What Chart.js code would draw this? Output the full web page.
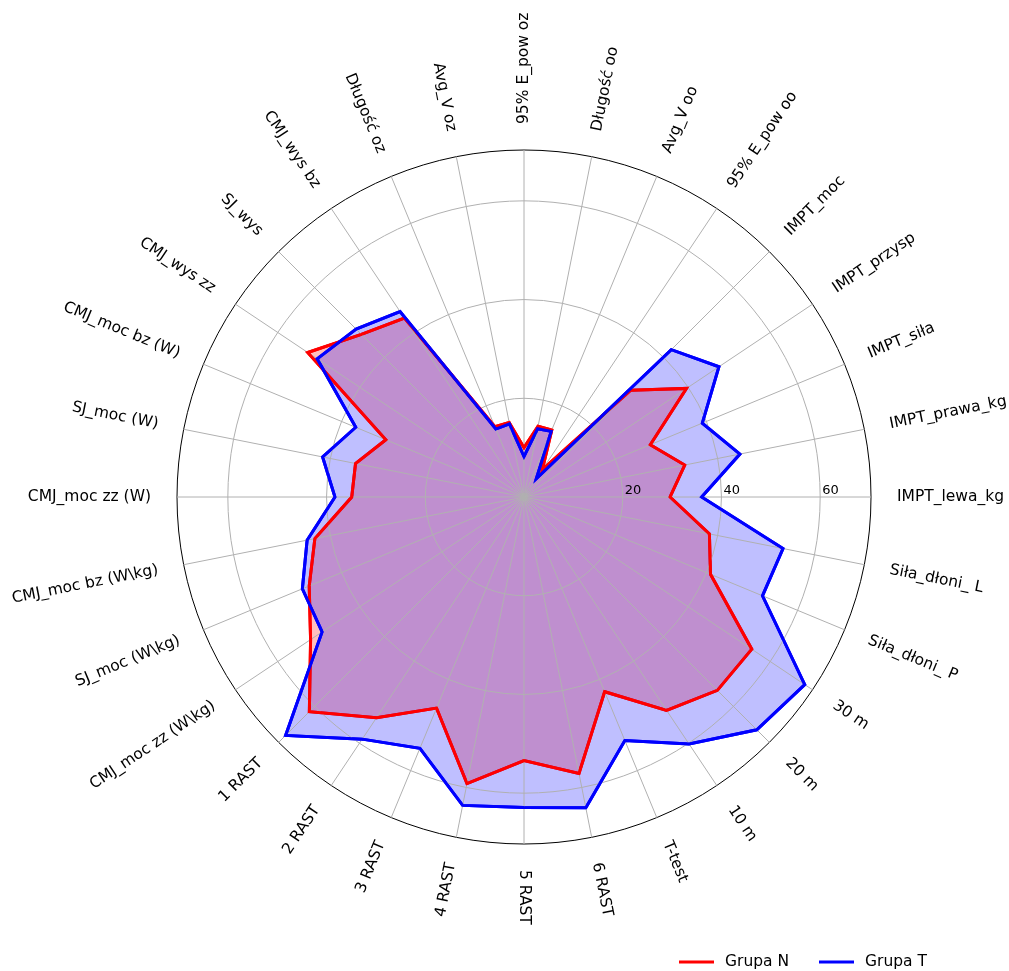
<!DOCTYPE html>
<html>
<head>
<meta charset="utf-8">
<title>Grupa N vs Grupa T</title>
<script src="https://cdn.jsdelivr.net/npm/chart.js@4.4.0/dist/chart.umd.min.js"></script>
<style>
  html, body { margin: 0; padding: 0; background: #fff; }
  #wrap { width: 1009px; height: 971px; }
</style>
</head>
<body>
<div id="wrap"><canvas id="chart" width="1009" height="971"></canvas></div>
<script>
// categories listed counter-clockwise starting at the right (0°), as in the source
const categories = [
  "IMPT_lewa_kg", "IMPT_prawa_kg", "IMPT_siła", "IMPT_przysp", "IMPT_moc",
  "95% E_pow oo", "Avg_V oo", "Długość oo", "95% E_pow oz", "Avg_V oz",
  "Długość oz", "CMJ_wys bz", "SJ_wys", "CMJ_wys zz", "CMJ_moc bz (W)",
  "SJ_moc (W)", "CMJ_moc zz (W)", "CMJ_moc bz (W\\kg)", "SJ_moc (W\\kg)",
  "CMJ_moc zz (W\\kg)", "1 RAST", "2 RAST", "3 RAST", "4 RAST", "5 RAST",
  "6 RAST", "T-test", "10 m", "20 m", "30 m", "Siła_dłoni_ P", "Siła_dłoni_ L"
];

const grupaN = [
  29.6, 33.2, 27.7, 39.6, 30.6, 6.7, 14.7, 14.6, 10.0, 15.4,
  15.4, 43.6, 46.6, 52.7, 30.3, 34.8, 34.9, 43.2, 47.1, 52.0,
  61.5, 53.8, 46.3, 59.2, 53.4, 57.1, 42.7, 52.0, 55.4, 55.5,
  40.9, 38.3
];

const grupaT = [
  36.0, 44.6, 39.1, 47.5, 42.2, 4.5, 14.4, 14.1, 8.2, 15.1,
  14.9, 45.2, 48.1, 50.4, 36.9, 41.6, 38.3, 44.8, 48.6, 49.2,
  68.3, 59.0, 55.1, 63.7, 62.9, 64.2, 53.4, 60.2, 66.7, 68.4,
  52.3, 53.5
];

const seriesNames = ["Grupa N", "Grupa T"];
const radialTicks = [20, 40, 60];
const radialMax = 70.3;

const FONT = "'DejaVu Sans', 'Liberation Sans', sans-serif";

// source runs counter-clockwise, Chart.js runs clockwise
function toClockwise(arr) {
  return arr.map((_, k) => arr[(arr.length - k) % arr.length]);
}

const overlay = {
  id: "overlay",
  afterDraw(chart) {
    const ctx = chart.ctx;
    const scale = chart.scales.r;

    // outlines go back on top of the grid (grid sits between fill and line)
    chart.data.datasets.forEach((ds, i) => {
      const meta = chart.getDatasetMeta(i);
      if (meta.dataset) meta.dataset.draw(ctx, chart.chartArea);
    });

    ctx.save();
    ctx.fillStyle = "#000";

    // category labels, rotated along the spokes
    ctx.font = "15.5px " + FONT;
    ctx.textBaseline = "middle";
    chart.data.labels.forEach((label, k) => {
      const a = scale.getIndexAngle(k) - Math.PI / 2;
      const p = scale.getPointPosition(k, scale.drawingArea + 26);
      ctx.save();
      ctx.translate(p.x, p.y);
      if (Math.cos(a) > -1e-6) {
        ctx.rotate(a);
        ctx.textAlign = "left";
      } else {
        ctx.rotate(a - Math.PI);
        ctx.textAlign = "right";
      }
      ctx.fillText(label, 0, 0);
      ctx.restore();
    });

    // radial tick labels along the right-hand axis
    ctx.font = "13px " + FONT;
    ctx.textAlign = "left";
    ctx.textBaseline = "alphabetic";
    radialTicks.forEach(v => {
      const d = scale.getDistanceFromCenterForValue(v);
      ctx.fillText(String(v), scale.xCenter + d + 2, scale.yCenter - 3);
    });

    // legend, bottom right
    ctx.font = "15.5px " + FONT;
    ctx.textBaseline = "middle";
    const legendX = [679, 819];
    chart.data.datasets.forEach((ds, i) => {
      const y = 962;
      ctx.strokeStyle = ds.borderColor;
      ctx.lineWidth = 3;
      ctx.beginPath();
      ctx.moveTo(legendX[i], y);
      ctx.lineTo(legendX[i] + 35, y);
      ctx.stroke();
      ctx.fillText(ds.label, legendX[i] + 46, y);
    });
    ctx.restore();
  }
};

const ctx = document.getElementById("chart").getContext("2d");

new Chart(ctx, {
  type: "radar",
  data: {
    labels: toClockwise(categories),
    datasets: [
      {
        label: seriesNames[0],
        data: toClockwise(grupaN),
        borderColor: "#ff0000",
        backgroundColor: "rgba(255, 0, 0, 0.25)",
        borderWidth: 3,
        fill: "origin",
        pointRadius: 0,
        order: 1
      },
      {
        label: seriesNames[1],
        data: toClockwise(grupaT),
        borderColor: "#0000ff",
        backgroundColor: "rgba(0, 0, 255, 0.25)",
        borderWidth: 3,
        fill: "origin",
        pointRadius: 0,
        order: 0
      }
    ]
  },
  options: {
    responsive: false,
    animation: false,
    devicePixelRatio: 1,
    layout: {
      padding: { left: 177, top: 150, right: 137, bottom: 126 }
    },
    plugins: {
      legend: { display: false },
      tooltip: { enabled: false }
    },
    scales: {
      r: {
        min: 0,
        max: radialMax,
        startAngle: 90,
        afterBuildTicks: scale => {
          scale.ticks = [0, ...radialTicks, radialMax].map(v => ({ value: v }));
        },
        ticks: { display: false },
        pointLabels: { display: false },
        grid: {
          circular: true,
          z: 1,
          lineWidth: 1,
          color: c => (c.tick && c.tick.value === radialMax ? "#000000" : "#b0b0b0")
        },
        angleLines: {
          display: true,
          color: "#b0b0b0",
          lineWidth: 1
        }
      }
    }
  },
  plugins: [overlay]
});
</script>
</body>
</html>
